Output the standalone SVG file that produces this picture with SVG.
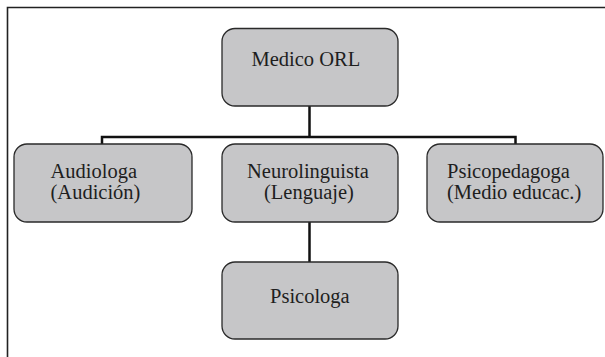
<svg xmlns="http://www.w3.org/2000/svg" width="605" height="357" viewBox="0 0 605 357">
<style>
.box{fill:#c6c6c8;stroke:#2a2a2a;stroke-width:1.3}
.t{font-family:"Liberation Serif","Times New Roman",serif;font-size:20.5px;fill:#1e1e1e}
.c{fill:none;stroke:#111;stroke-width:2.5}
</style>
<rect x="0" y="0" width="605" height="357" fill="#fff"/>
<path d="M7.5 360 V7.5 H610" fill="none" stroke="#222" stroke-width="1.6"/>
<g id="connectors">
<path class="c" d="M309.5 106 V137 M102 144 V137 H515.5 V144"/>
<path class="c" d="M309.5 222 V262"/>
</g>
<g id="medico">
<rect class="box" x="222" y="28.5" width="176" height="77.5" rx="13"/>
<text class="t" x="251.5" y="66">Medico ORL</text>
</g>
<g id="audiologa">
<rect class="box" x="14" y="144" width="178" height="78" rx="13"/>
<text class="t" x="50.5" y="177.5">Audiologa</text>
<text class="t" x="50.5" y="198.5">(Audición)</text>
</g>
<g id="neurolinguista">
<rect class="box" x="222" y="144" width="176" height="78" rx="13"/>
<text class="t" x="247" y="177.5">Neurolinguista</text>
<text class="t" x="264" y="198.5">(Lenguaje)</text>
</g>
<g id="psicopedagoga">
<rect class="box" x="427" y="144" width="176" height="78" rx="13"/>
<text class="t" x="447" y="177.5">Psicopedagoga</text>
<text class="t" x="447" y="198.5">(Medio educac.)</text>
</g>
<g id="psicologa">
<rect class="box" x="222" y="262" width="176" height="77" rx="13"/>
<text class="t" x="270" y="303">Psicologa</text>
</g>
</svg>
